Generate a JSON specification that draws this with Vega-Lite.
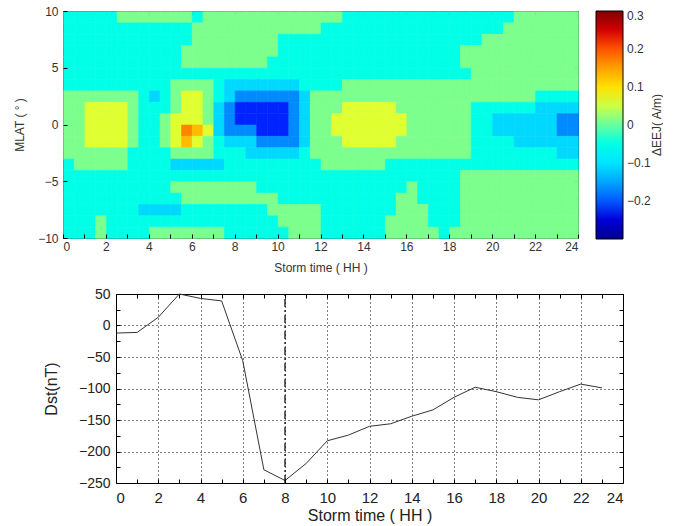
{
"$schema": "https://vega.github.io/schema/vega-lite/v6.json",
"background": "white",
"padding": {"left": 6, "top": 4, "right": 0, "bottom": 0},
"spacing": 12,
"config": {"view": {"stroke": "black", "strokeWidth": 1}, "axis": {"domain": false, "tickColor": "black"}},
"datasets": {
"eej": [
{"t":0.25,"m":9.5,"v":-0.05},{"t":0.75,"m":9.5,"v":-0.05},{"t":1.25,"m":9.5,"v":-0.05},{"t":1.75,"m":9.5,"v":-0.05},{"t":2.25,"m":9.5,"v":-0.05},{"t":2.75,"m":9.5,"v":0.01},{"t":3.25,"m":9.5,"v":0.01},{"t":3.75,"m":9.5,"v":0.01},{"t":4.25,"m":9.5,"v":0.01},{"t":4.75,"m":9.5,"v":0.01},{"t":5.25,"m":9.5,"v":0.01},{"t":5.75,"m":9.5,"v":0.01},{"t":6.25,"m":9.5,"v":-0.05},{"t":6.75,"m":9.5,"v":0.01},{"t":7.25,"m":9.5,"v":0.01},{"t":7.75,"m":9.5,"v":0.01},{"t":8.25,"m":9.5,"v":0.01},{"t":8.75,"m":9.5,"v":0.01},{"t":9.25,"m":9.5,"v":0.01},{"t":9.75,"m":9.5,"v":0.01},{"t":10.25,"m":9.5,"v":0.01},{"t":10.75,"m":9.5,"v":0.01},{"t":11.25,"m":9.5,"v":0.01},{"t":11.75,"m":9.5,"v":0.01},{"t":12.25,"m":9.5,"v":0.01},{"t":12.75,"m":9.5,"v":0.01},{"t":13.25,"m":9.5,"v":-0.05},{"t":13.75,"m":9.5,"v":-0.05},{"t":14.25,"m":9.5,"v":-0.05},{"t":14.75,"m":9.5,"v":-0.05},{"t":15.25,"m":9.5,"v":-0.05},{"t":15.75,"m":9.5,"v":-0.05},{"t":16.25,"m":9.5,"v":-0.05},{"t":16.75,"m":9.5,"v":-0.05},{"t":17.25,"m":9.5,"v":-0.05},{"t":17.75,"m":9.5,"v":-0.05},{"t":18.25,"m":9.5,"v":-0.05},{"t":18.75,"m":9.5,"v":-0.05},{"t":19.25,"m":9.5,"v":-0.05},{"t":19.75,"m":9.5,"v":-0.05},{"t":20.25,"m":9.5,"v":-0.05},{"t":20.75,"m":9.5,"v":-0.05},{"t":21.25,"m":9.5,"v":0.01},{"t":21.75,"m":9.5,"v":0.01},{"t":22.25,"m":9.5,"v":0.01},{"t":22.75,"m":9.5,"v":0.01},{"t":23.25,"m":9.5,"v":0.01},{"t":23.75,"m":9.5,"v":0.01},
{"t":0.25,"m":8.5,"v":-0.05},{"t":0.75,"m":8.5,"v":-0.05},{"t":1.25,"m":8.5,"v":-0.05},{"t":1.75,"m":8.5,"v":-0.05},{"t":2.25,"m":8.5,"v":-0.05},{"t":2.75,"m":8.5,"v":-0.05},{"t":3.25,"m":8.5,"v":-0.05},{"t":3.75,"m":8.5,"v":-0.05},{"t":4.25,"m":8.5,"v":-0.05},{"t":4.75,"m":8.5,"v":-0.05},{"t":5.25,"m":8.5,"v":-0.05},{"t":5.75,"m":8.5,"v":-0.05},{"t":6.25,"m":8.5,"v":0.01},{"t":6.75,"m":8.5,"v":0.01},{"t":7.25,"m":8.5,"v":0.01},{"t":7.75,"m":8.5,"v":0.01},{"t":8.25,"m":8.5,"v":0.01},{"t":8.75,"m":8.5,"v":0.01},{"t":9.25,"m":8.5,"v":0.01},{"t":9.75,"m":8.5,"v":0.01},{"t":10.25,"m":8.5,"v":0.01},{"t":10.75,"m":8.5,"v":0.01},{"t":11.25,"m":8.5,"v":0.01},{"t":11.75,"m":8.5,"v":0.01},{"t":12.25,"m":8.5,"v":-0.05},{"t":12.75,"m":8.5,"v":-0.05},{"t":13.25,"m":8.5,"v":-0.05},{"t":13.75,"m":8.5,"v":-0.05},{"t":14.25,"m":8.5,"v":-0.05},{"t":14.75,"m":8.5,"v":-0.05},{"t":15.25,"m":8.5,"v":-0.05},{"t":15.75,"m":8.5,"v":-0.05},{"t":16.25,"m":8.5,"v":-0.05},{"t":16.75,"m":8.5,"v":-0.05},{"t":17.25,"m":8.5,"v":-0.05},{"t":17.75,"m":8.5,"v":-0.05},{"t":18.25,"m":8.5,"v":-0.05},{"t":18.75,"m":8.5,"v":-0.05},{"t":19.25,"m":8.5,"v":-0.05},{"t":19.75,"m":8.5,"v":-0.05},{"t":20.25,"m":8.5,"v":-0.05},{"t":20.75,"m":8.5,"v":0.01},{"t":21.25,"m":8.5,"v":0.01},{"t":21.75,"m":8.5,"v":0.01},{"t":22.25,"m":8.5,"v":0.01},{"t":22.75,"m":8.5,"v":0.01},{"t":23.25,"m":8.5,"v":0.01},{"t":23.75,"m":8.5,"v":0.01},
{"t":0.25,"m":7.5,"v":-0.05},{"t":0.75,"m":7.5,"v":-0.05},{"t":1.25,"m":7.5,"v":-0.05},{"t":1.75,"m":7.5,"v":-0.05},{"t":2.25,"m":7.5,"v":-0.05},{"t":2.75,"m":7.5,"v":-0.05},{"t":3.25,"m":7.5,"v":-0.05},{"t":3.75,"m":7.5,"v":-0.05},{"t":4.25,"m":7.5,"v":-0.05},{"t":4.75,"m":7.5,"v":-0.05},{"t":5.25,"m":7.5,"v":-0.05},{"t":5.75,"m":7.5,"v":-0.05},{"t":6.25,"m":7.5,"v":0.01},{"t":6.75,"m":7.5,"v":0.01},{"t":7.25,"m":7.5,"v":0.01},{"t":7.75,"m":7.5,"v":0.01},{"t":8.25,"m":7.5,"v":0.01},{"t":8.75,"m":7.5,"v":0.01},{"t":9.25,"m":7.5,"v":0.01},{"t":9.75,"m":7.5,"v":0.01},{"t":10.25,"m":7.5,"v":-0.05},{"t":10.75,"m":7.5,"v":-0.05},{"t":11.25,"m":7.5,"v":-0.05},{"t":11.75,"m":7.5,"v":-0.05},{"t":12.25,"m":7.5,"v":-0.05},{"t":12.75,"m":7.5,"v":-0.05},{"t":13.25,"m":7.5,"v":-0.05},{"t":13.75,"m":7.5,"v":-0.05},{"t":14.25,"m":7.5,"v":-0.05},{"t":14.75,"m":7.5,"v":-0.05},{"t":15.25,"m":7.5,"v":-0.05},{"t":15.75,"m":7.5,"v":-0.05},{"t":16.25,"m":7.5,"v":-0.05},{"t":16.75,"m":7.5,"v":-0.05},{"t":17.25,"m":7.5,"v":-0.05},{"t":17.75,"m":7.5,"v":-0.05},{"t":18.25,"m":7.5,"v":-0.05},{"t":18.75,"m":7.5,"v":-0.05},{"t":19.25,"m":7.5,"v":-0.05},{"t":19.75,"m":7.5,"v":0.01},{"t":20.25,"m":7.5,"v":0.01},{"t":20.75,"m":7.5,"v":0.01},{"t":21.25,"m":7.5,"v":0.01},{"t":21.75,"m":7.5,"v":0.01},{"t":22.25,"m":7.5,"v":0.01},{"t":22.75,"m":7.5,"v":0.01},{"t":23.25,"m":7.5,"v":0.01},{"t":23.75,"m":7.5,"v":0.01},
{"t":0.25,"m":6.5,"v":-0.05},{"t":0.75,"m":6.5,"v":-0.05},{"t":1.25,"m":6.5,"v":-0.05},{"t":1.75,"m":6.5,"v":-0.05},{"t":2.25,"m":6.5,"v":-0.05},{"t":2.75,"m":6.5,"v":-0.05},{"t":3.25,"m":6.5,"v":-0.05},{"t":3.75,"m":6.5,"v":-0.05},{"t":4.25,"m":6.5,"v":-0.05},{"t":4.75,"m":6.5,"v":-0.05},{"t":5.25,"m":6.5,"v":-0.05},{"t":5.75,"m":6.5,"v":0.01},{"t":6.25,"m":6.5,"v":0.01},{"t":6.75,"m":6.5,"v":0.01},{"t":7.25,"m":6.5,"v":0.01},{"t":7.75,"m":6.5,"v":0.01},{"t":8.25,"m":6.5,"v":0.01},{"t":8.75,"m":6.5,"v":0.01},{"t":9.25,"m":6.5,"v":0.01},{"t":9.75,"m":6.5,"v":0.01},{"t":10.25,"m":6.5,"v":-0.05},{"t":10.75,"m":6.5,"v":-0.05},{"t":11.25,"m":6.5,"v":-0.05},{"t":11.75,"m":6.5,"v":-0.05},{"t":12.25,"m":6.5,"v":-0.05},{"t":12.75,"m":6.5,"v":-0.05},{"t":13.25,"m":6.5,"v":-0.05},{"t":13.75,"m":6.5,"v":-0.05},{"t":14.25,"m":6.5,"v":-0.05},{"t":14.75,"m":6.5,"v":-0.05},{"t":15.25,"m":6.5,"v":-0.05},{"t":15.75,"m":6.5,"v":-0.05},{"t":16.25,"m":6.5,"v":-0.05},{"t":16.75,"m":6.5,"v":-0.05},{"t":17.25,"m":6.5,"v":-0.05},{"t":17.75,"m":6.5,"v":-0.05},{"t":18.25,"m":6.5,"v":-0.05},{"t":18.75,"m":6.5,"v":0.01},{"t":19.25,"m":6.5,"v":0.01},{"t":19.75,"m":6.5,"v":0.01},{"t":20.25,"m":6.5,"v":0.01},{"t":20.75,"m":6.5,"v":0.01},{"t":21.25,"m":6.5,"v":0.01},{"t":21.75,"m":6.5,"v":0.01},{"t":22.25,"m":6.5,"v":0.01},{"t":22.75,"m":6.5,"v":0.01},{"t":23.25,"m":6.5,"v":0.01},{"t":23.75,"m":6.5,"v":0.01},
{"t":0.25,"m":5.5,"v":-0.05},{"t":0.75,"m":5.5,"v":-0.05},{"t":1.25,"m":5.5,"v":-0.05},{"t":1.75,"m":5.5,"v":-0.05},{"t":2.25,"m":5.5,"v":-0.05},{"t":2.75,"m":5.5,"v":-0.05},{"t":3.25,"m":5.5,"v":-0.05},{"t":3.75,"m":5.5,"v":-0.05},{"t":4.25,"m":5.5,"v":-0.05},{"t":4.75,"m":5.5,"v":-0.05},{"t":5.25,"m":5.5,"v":-0.05},{"t":5.75,"m":5.5,"v":0.01},{"t":6.25,"m":5.5,"v":0.01},{"t":6.75,"m":5.5,"v":0.01},{"t":7.25,"m":5.5,"v":0.01},{"t":7.75,"m":5.5,"v":0.01},{"t":8.25,"m":5.5,"v":0.01},{"t":8.75,"m":5.5,"v":0.01},{"t":9.25,"m":5.5,"v":0.01},{"t":9.75,"m":5.5,"v":-0.05},{"t":10.25,"m":5.5,"v":-0.05},{"t":10.75,"m":5.5,"v":-0.05},{"t":11.25,"m":5.5,"v":-0.05},{"t":11.75,"m":5.5,"v":-0.05},{"t":12.25,"m":5.5,"v":-0.05},{"t":12.75,"m":5.5,"v":-0.05},{"t":13.25,"m":5.5,"v":-0.05},{"t":13.75,"m":5.5,"v":-0.05},{"t":14.25,"m":5.5,"v":-0.05},{"t":14.75,"m":5.5,"v":-0.05},{"t":15.25,"m":5.5,"v":-0.05},{"t":15.75,"m":5.5,"v":-0.05},{"t":16.25,"m":5.5,"v":-0.05},{"t":16.75,"m":5.5,"v":-0.05},{"t":17.25,"m":5.5,"v":-0.05},{"t":17.75,"m":5.5,"v":-0.05},{"t":18.25,"m":5.5,"v":-0.05},{"t":18.75,"m":5.5,"v":0.01},{"t":19.25,"m":5.5,"v":0.01},{"t":19.75,"m":5.5,"v":0.01},{"t":20.25,"m":5.5,"v":0.01},{"t":20.75,"m":5.5,"v":0.01},{"t":21.25,"m":5.5,"v":0.01},{"t":21.75,"m":5.5,"v":0.01},{"t":22.25,"m":5.5,"v":0.01},{"t":22.75,"m":5.5,"v":0.01},{"t":23.25,"m":5.5,"v":0.01},{"t":23.75,"m":5.5,"v":0.01},
{"t":0.25,"m":4.5,"v":-0.05},{"t":0.75,"m":4.5,"v":-0.05},{"t":1.25,"m":4.5,"v":-0.05},{"t":1.75,"m":4.5,"v":-0.05},{"t":2.25,"m":4.5,"v":-0.05},{"t":2.75,"m":4.5,"v":-0.05},{"t":3.25,"m":4.5,"v":-0.05},{"t":3.75,"m":4.5,"v":-0.05},{"t":4.25,"m":4.5,"v":-0.05},{"t":4.75,"m":4.5,"v":-0.05},{"t":5.25,"m":4.5,"v":-0.05},{"t":5.75,"m":4.5,"v":-0.05},{"t":6.25,"m":4.5,"v":-0.05},{"t":6.75,"m":4.5,"v":-0.05},{"t":7.25,"m":4.5,"v":-0.05},{"t":7.75,"m":4.5,"v":-0.05},{"t":8.25,"m":4.5,"v":-0.05},{"t":8.75,"m":4.5,"v":-0.05},{"t":9.25,"m":4.5,"v":-0.05},{"t":9.75,"m":4.5,"v":-0.05},{"t":10.25,"m":4.5,"v":-0.05},{"t":10.75,"m":4.5,"v":-0.05},{"t":11.25,"m":4.5,"v":-0.05},{"t":11.75,"m":4.5,"v":-0.05},{"t":12.25,"m":4.5,"v":-0.05},{"t":12.75,"m":4.5,"v":-0.05},{"t":13.25,"m":4.5,"v":-0.05},{"t":13.75,"m":4.5,"v":-0.05},{"t":14.25,"m":4.5,"v":-0.05},{"t":14.75,"m":4.5,"v":-0.05},{"t":15.25,"m":4.5,"v":-0.05},{"t":15.75,"m":4.5,"v":-0.05},{"t":16.25,"m":4.5,"v":-0.05},{"t":16.75,"m":4.5,"v":-0.05},{"t":17.25,"m":4.5,"v":-0.05},{"t":17.75,"m":4.5,"v":-0.05},{"t":18.25,"m":4.5,"v":-0.05},{"t":18.75,"m":4.5,"v":-0.05},{"t":19.25,"m":4.5,"v":0.01},{"t":19.75,"m":4.5,"v":0.01},{"t":20.25,"m":4.5,"v":0.01},{"t":20.75,"m":4.5,"v":0.01},{"t":21.25,"m":4.5,"v":0.01},{"t":21.75,"m":4.5,"v":0.01},{"t":22.25,"m":4.5,"v":0.01},{"t":22.75,"m":4.5,"v":0.01},{"t":23.25,"m":4.5,"v":0.01},{"t":23.75,"m":4.5,"v":0.01},
{"t":0.25,"m":3.5,"v":-0.05},{"t":0.75,"m":3.5,"v":-0.05},{"t":1.25,"m":3.5,"v":-0.05},{"t":1.75,"m":3.5,"v":-0.05},{"t":2.25,"m":3.5,"v":-0.05},{"t":2.75,"m":3.5,"v":-0.05},{"t":3.25,"m":3.5,"v":-0.05},{"t":3.75,"m":3.5,"v":-0.05},{"t":4.25,"m":3.5,"v":-0.05},{"t":4.75,"m":3.5,"v":-0.05},{"t":5.25,"m":3.5,"v":0.01},{"t":5.75,"m":3.5,"v":0.01},{"t":6.25,"m":3.5,"v":0.01},{"t":6.75,"m":3.5,"v":0.01},{"t":7.25,"m":3.5,"v":-0.05},{"t":7.75,"m":3.5,"v":-0.11},{"t":8.25,"m":3.5,"v":-0.11},{"t":8.75,"m":3.5,"v":-0.11},{"t":9.25,"m":3.5,"v":-0.11},{"t":9.75,"m":3.5,"v":-0.11},{"t":10.25,"m":3.5,"v":-0.11},{"t":10.75,"m":3.5,"v":-0.11},{"t":11.25,"m":3.5,"v":-0.05},{"t":11.75,"m":3.5,"v":-0.05},{"t":12.25,"m":3.5,"v":-0.05},{"t":12.75,"m":3.5,"v":-0.05},{"t":13.25,"m":3.5,"v":0.01},{"t":13.75,"m":3.5,"v":0.01},{"t":14.25,"m":3.5,"v":0.01},{"t":14.75,"m":3.5,"v":0.01},{"t":15.25,"m":3.5,"v":0.01},{"t":15.75,"m":3.5,"v":0.01},{"t":16.25,"m":3.5,"v":0.01},{"t":16.75,"m":3.5,"v":0.01},{"t":17.25,"m":3.5,"v":0.01},{"t":17.75,"m":3.5,"v":0.01},{"t":18.25,"m":3.5,"v":0.01},{"t":18.75,"m":3.5,"v":0.01},{"t":19.25,"m":3.5,"v":0.01},{"t":19.75,"m":3.5,"v":0.01},{"t":20.25,"m":3.5,"v":0.01},{"t":20.75,"m":3.5,"v":0.01},{"t":21.25,"m":3.5,"v":0.01},{"t":21.75,"m":3.5,"v":0.01},{"t":22.25,"m":3.5,"v":0.01},{"t":22.75,"m":3.5,"v":0.01},{"t":23.25,"m":3.5,"v":0.01},{"t":23.75,"m":3.5,"v":0.01},
{"t":0.25,"m":2.5,"v":0.01},{"t":0.75,"m":2.5,"v":0.01},{"t":1.25,"m":2.5,"v":0.01},{"t":1.75,"m":2.5,"v":0.01},{"t":2.25,"m":2.5,"v":0.01},{"t":2.75,"m":2.5,"v":0.01},{"t":3.25,"m":2.5,"v":0.01},{"t":3.75,"m":2.5,"v":-0.05},{"t":4.25,"m":2.5,"v":-0.11},{"t":4.75,"m":2.5,"v":-0.05},{"t":5.25,"m":2.5,"v":0.01},{"t":5.75,"m":2.5,"v":0.06},{"t":6.25,"m":2.5,"v":0.06},{"t":6.75,"m":2.5,"v":0.01},{"t":7.25,"m":2.5,"v":-0.05},{"t":7.75,"m":2.5,"v":-0.11},{"t":8.25,"m":2.5,"v":-0.17},{"t":8.75,"m":2.5,"v":-0.17},{"t":9.25,"m":2.5,"v":-0.17},{"t":9.75,"m":2.5,"v":-0.17},{"t":10.25,"m":2.5,"v":-0.17},{"t":10.75,"m":2.5,"v":-0.17},{"t":11.25,"m":2.5,"v":-0.11},{"t":11.75,"m":2.5,"v":0.01},{"t":12.25,"m":2.5,"v":0.01},{"t":12.75,"m":2.5,"v":0.01},{"t":13.25,"m":2.5,"v":0.01},{"t":13.75,"m":2.5,"v":0.01},{"t":14.25,"m":2.5,"v":0.01},{"t":14.75,"m":2.5,"v":0.01},{"t":15.25,"m":2.5,"v":0.01},{"t":15.75,"m":2.5,"v":0.01},{"t":16.25,"m":2.5,"v":0.01},{"t":16.75,"m":2.5,"v":0.01},{"t":17.25,"m":2.5,"v":0.01},{"t":17.75,"m":2.5,"v":0.01},{"t":18.25,"m":2.5,"v":0.01},{"t":18.75,"m":2.5,"v":0.01},{"t":19.25,"m":2.5,"v":0.01},{"t":19.75,"m":2.5,"v":0.01},{"t":20.25,"m":2.5,"v":0.01},{"t":20.75,"m":2.5,"v":0.01},{"t":21.25,"m":2.5,"v":0.01},{"t":21.75,"m":2.5,"v":0.01},{"t":22.25,"m":2.5,"v":-0.05},{"t":22.75,"m":2.5,"v":-0.05},{"t":23.25,"m":2.5,"v":-0.05},{"t":23.75,"m":2.5,"v":-0.05},
{"t":0.25,"m":1.5,"v":0.01},{"t":0.75,"m":1.5,"v":0.01},{"t":1.25,"m":1.5,"v":0.06},{"t":1.75,"m":1.5,"v":0.06},{"t":2.25,"m":1.5,"v":0.06},{"t":2.75,"m":1.5,"v":0.06},{"t":3.25,"m":1.5,"v":0.01},{"t":3.75,"m":1.5,"v":-0.05},{"t":4.25,"m":1.5,"v":-0.05},{"t":4.75,"m":1.5,"v":-0.05},{"t":5.25,"m":1.5,"v":0.01},{"t":5.75,"m":1.5,"v":0.06},{"t":6.25,"m":1.5,"v":0.06},{"t":6.75,"m":1.5,"v":0.01},{"t":7.25,"m":1.5,"v":-0.11},{"t":7.75,"m":1.5,"v":-0.17},{"t":8.25,"m":1.5,"v":-0.22},{"t":8.75,"m":1.5,"v":-0.22},{"t":9.25,"m":1.5,"v":-0.22},{"t":9.75,"m":1.5,"v":-0.22},{"t":10.25,"m":1.5,"v":-0.22},{"t":10.75,"m":1.5,"v":-0.17},{"t":11.25,"m":1.5,"v":-0.11},{"t":11.75,"m":1.5,"v":0.01},{"t":12.25,"m":1.5,"v":0.01},{"t":12.75,"m":1.5,"v":0.01},{"t":13.25,"m":1.5,"v":0.06},{"t":13.75,"m":1.5,"v":0.06},{"t":14.25,"m":1.5,"v":0.06},{"t":14.75,"m":1.5,"v":0.06},{"t":15.25,"m":1.5,"v":0.06},{"t":15.75,"m":1.5,"v":0.01},{"t":16.25,"m":1.5,"v":0.01},{"t":16.75,"m":1.5,"v":0.01},{"t":17.25,"m":1.5,"v":0.01},{"t":17.75,"m":1.5,"v":0.01},{"t":18.25,"m":1.5,"v":0.01},{"t":18.75,"m":1.5,"v":0.01},{"t":19.25,"m":1.5,"v":-0.05},{"t":19.75,"m":1.5,"v":-0.05},{"t":20.25,"m":1.5,"v":-0.05},{"t":20.75,"m":1.5,"v":-0.05},{"t":21.25,"m":1.5,"v":-0.05},{"t":21.75,"m":1.5,"v":-0.05},{"t":22.25,"m":1.5,"v":-0.11},{"t":22.75,"m":1.5,"v":-0.11},{"t":23.25,"m":1.5,"v":-0.11},{"t":23.75,"m":1.5,"v":-0.11},
{"t":0.25,"m":0.5,"v":0.01},{"t":0.75,"m":0.5,"v":0.01},{"t":1.25,"m":0.5,"v":0.06},{"t":1.75,"m":0.5,"v":0.06},{"t":2.25,"m":0.5,"v":0.06},{"t":2.75,"m":0.5,"v":0.06},{"t":3.25,"m":0.5,"v":0.01},{"t":3.75,"m":0.5,"v":-0.05},{"t":4.25,"m":0.5,"v":-0.05},{"t":4.75,"m":0.5,"v":0.01},{"t":5.25,"m":0.5,"v":0.06},{"t":5.75,"m":0.5,"v":0.06},{"t":6.25,"m":0.5,"v":0.06},{"t":6.75,"m":0.5,"v":0.01},{"t":7.25,"m":0.5,"v":-0.11},{"t":7.75,"m":0.5,"v":-0.17},{"t":8.25,"m":0.5,"v":-0.22},{"t":8.75,"m":0.5,"v":-0.22},{"t":9.25,"m":0.5,"v":-0.22},{"t":9.75,"m":0.5,"v":-0.22},{"t":10.25,"m":0.5,"v":-0.22},{"t":10.75,"m":0.5,"v":-0.17},{"t":11.25,"m":0.5,"v":-0.11},{"t":11.75,"m":0.5,"v":0.01},{"t":12.25,"m":0.5,"v":0.01},{"t":12.75,"m":0.5,"v":0.06},{"t":13.25,"m":0.5,"v":0.06},{"t":13.75,"m":0.5,"v":0.06},{"t":14.25,"m":0.5,"v":0.06},{"t":14.75,"m":0.5,"v":0.06},{"t":15.25,"m":0.5,"v":0.06},{"t":15.75,"m":0.5,"v":0.06},{"t":16.25,"m":0.5,"v":0.01},{"t":16.75,"m":0.5,"v":0.01},{"t":17.25,"m":0.5,"v":0.01},{"t":17.75,"m":0.5,"v":0.01},{"t":18.25,"m":0.5,"v":0.01},{"t":18.75,"m":0.5,"v":0.01},{"t":19.25,"m":0.5,"v":-0.05},{"t":19.75,"m":0.5,"v":-0.05},{"t":20.25,"m":0.5,"v":-0.11},{"t":20.75,"m":0.5,"v":-0.11},{"t":21.25,"m":0.5,"v":-0.11},{"t":21.75,"m":0.5,"v":-0.11},{"t":22.25,"m":0.5,"v":-0.11},{"t":22.75,"m":0.5,"v":-0.11},{"t":23.25,"m":0.5,"v":-0.17},{"t":23.75,"m":0.5,"v":-0.17},
{"t":0.25,"m":-0.5,"v":0.01},{"t":0.75,"m":-0.5,"v":0.01},{"t":1.25,"m":-0.5,"v":0.06},{"t":1.75,"m":-0.5,"v":0.06},{"t":2.25,"m":-0.5,"v":0.06},{"t":2.75,"m":-0.5,"v":0.06},{"t":3.25,"m":-0.5,"v":0.01},{"t":3.75,"m":-0.5,"v":-0.05},{"t":4.25,"m":-0.5,"v":-0.05},{"t":4.75,"m":-0.5,"v":0.01},{"t":5.25,"m":-0.5,"v":0.06},{"t":5.75,"m":-0.5,"v":0.17},{"t":6.25,"m":-0.5,"v":0.13},{"t":6.75,"m":-0.5,"v":0.06},{"t":7.25,"m":-0.5,"v":-0.11},{"t":7.75,"m":-0.5,"v":-0.17},{"t":8.25,"m":-0.5,"v":-0.17},{"t":8.75,"m":-0.5,"v":-0.17},{"t":9.25,"m":-0.5,"v":-0.22},{"t":9.75,"m":-0.5,"v":-0.22},{"t":10.25,"m":-0.5,"v":-0.22},{"t":10.75,"m":-0.5,"v":-0.17},{"t":11.25,"m":-0.5,"v":-0.11},{"t":11.75,"m":-0.5,"v":0.01},{"t":12.25,"m":-0.5,"v":0.01},{"t":12.75,"m":-0.5,"v":0.06},{"t":13.25,"m":-0.5,"v":0.06},{"t":13.75,"m":-0.5,"v":0.06},{"t":14.25,"m":-0.5,"v":0.06},{"t":14.75,"m":-0.5,"v":0.06},{"t":15.25,"m":-0.5,"v":0.06},{"t":15.75,"m":-0.5,"v":0.06},{"t":16.25,"m":-0.5,"v":0.01},{"t":16.75,"m":-0.5,"v":0.01},{"t":17.25,"m":-0.5,"v":0.01},{"t":17.75,"m":-0.5,"v":0.01},{"t":18.25,"m":-0.5,"v":0.01},{"t":18.75,"m":-0.5,"v":0.01},{"t":19.25,"m":-0.5,"v":-0.05},{"t":19.75,"m":-0.5,"v":-0.05},{"t":20.25,"m":-0.5,"v":-0.11},{"t":20.75,"m":-0.5,"v":-0.11},{"t":21.25,"m":-0.5,"v":-0.11},{"t":21.75,"m":-0.5,"v":-0.11},{"t":22.25,"m":-0.5,"v":-0.11},{"t":22.75,"m":-0.5,"v":-0.11},{"t":23.25,"m":-0.5,"v":-0.17},{"t":23.75,"m":-0.5,"v":-0.17},
{"t":0.25,"m":-1.5,"v":0.01},{"t":0.75,"m":-1.5,"v":0.01},{"t":1.25,"m":-1.5,"v":0.06},{"t":1.75,"m":-1.5,"v":0.06},{"t":2.25,"m":-1.5,"v":0.06},{"t":2.75,"m":-1.5,"v":0.06},{"t":3.25,"m":-1.5,"v":0.01},{"t":3.75,"m":-1.5,"v":-0.05},{"t":4.25,"m":-1.5,"v":-0.05},{"t":4.75,"m":-1.5,"v":0.01},{"t":5.25,"m":-1.5,"v":0.06},{"t":5.75,"m":-1.5,"v":0.13},{"t":6.25,"m":-1.5,"v":0.06},{"t":6.75,"m":-1.5,"v":0.01},{"t":7.25,"m":-1.5,"v":-0.05},{"t":7.75,"m":-1.5,"v":-0.11},{"t":8.25,"m":-1.5,"v":-0.11},{"t":8.75,"m":-1.5,"v":-0.11},{"t":9.25,"m":-1.5,"v":-0.17},{"t":9.75,"m":-1.5,"v":-0.17},{"t":10.25,"m":-1.5,"v":-0.17},{"t":10.75,"m":-1.5,"v":-0.17},{"t":11.25,"m":-1.5,"v":-0.11},{"t":11.75,"m":-1.5,"v":0.01},{"t":12.25,"m":-1.5,"v":0.01},{"t":12.75,"m":-1.5,"v":0.01},{"t":13.25,"m":-1.5,"v":0.06},{"t":13.75,"m":-1.5,"v":0.06},{"t":14.25,"m":-1.5,"v":0.06},{"t":14.75,"m":-1.5,"v":0.06},{"t":15.25,"m":-1.5,"v":0.06},{"t":15.75,"m":-1.5,"v":0.01},{"t":16.25,"m":-1.5,"v":0.01},{"t":16.75,"m":-1.5,"v":0.01},{"t":17.25,"m":-1.5,"v":0.01},{"t":17.75,"m":-1.5,"v":0.01},{"t":18.25,"m":-1.5,"v":0.01},{"t":18.75,"m":-1.5,"v":0.01},{"t":19.25,"m":-1.5,"v":-0.05},{"t":19.75,"m":-1.5,"v":-0.05},{"t":20.25,"m":-1.5,"v":-0.05},{"t":20.75,"m":-1.5,"v":-0.05},{"t":21.25,"m":-1.5,"v":-0.11},{"t":21.75,"m":-1.5,"v":-0.11},{"t":22.25,"m":-1.5,"v":-0.11},{"t":22.75,"m":-1.5,"v":-0.11},{"t":23.25,"m":-1.5,"v":-0.11},{"t":23.75,"m":-1.5,"v":-0.11},
{"t":0.25,"m":-2.5,"v":0.01},{"t":0.75,"m":-2.5,"v":0.01},{"t":1.25,"m":-2.5,"v":0.01},{"t":1.75,"m":-2.5,"v":0.01},{"t":2.25,"m":-2.5,"v":0.01},{"t":2.75,"m":-2.5,"v":0.01},{"t":3.25,"m":-2.5,"v":-0.05},{"t":3.75,"m":-2.5,"v":-0.05},{"t":4.25,"m":-2.5,"v":-0.05},{"t":4.75,"m":-2.5,"v":-0.05},{"t":5.25,"m":-2.5,"v":0.01},{"t":5.75,"m":-2.5,"v":0.01},{"t":6.25,"m":-2.5,"v":0.01},{"t":6.75,"m":-2.5,"v":0.01},{"t":7.25,"m":-2.5,"v":-0.05},{"t":7.75,"m":-2.5,"v":-0.05},{"t":8.25,"m":-2.5,"v":-0.05},{"t":8.75,"m":-2.5,"v":-0.11},{"t":9.25,"m":-2.5,"v":-0.11},{"t":9.75,"m":-2.5,"v":-0.11},{"t":10.25,"m":-2.5,"v":-0.11},{"t":10.75,"m":-2.5,"v":-0.11},{"t":11.25,"m":-2.5,"v":-0.05},{"t":11.75,"m":-2.5,"v":0.01},{"t":12.25,"m":-2.5,"v":0.01},{"t":12.75,"m":-2.5,"v":0.01},{"t":13.25,"m":-2.5,"v":0.01},{"t":13.75,"m":-2.5,"v":0.01},{"t":14.25,"m":-2.5,"v":0.01},{"t":14.75,"m":-2.5,"v":0.01},{"t":15.25,"m":-2.5,"v":0.01},{"t":15.75,"m":-2.5,"v":0.01},{"t":16.25,"m":-2.5,"v":0.01},{"t":16.75,"m":-2.5,"v":0.01},{"t":17.25,"m":-2.5,"v":0.01},{"t":17.75,"m":-2.5,"v":0.01},{"t":18.25,"m":-2.5,"v":0.01},{"t":18.75,"m":-2.5,"v":0.01},{"t":19.25,"m":-2.5,"v":-0.05},{"t":19.75,"m":-2.5,"v":-0.05},{"t":20.25,"m":-2.5,"v":-0.05},{"t":20.75,"m":-2.5,"v":-0.05},{"t":21.25,"m":-2.5,"v":-0.05},{"t":21.75,"m":-2.5,"v":-0.05},{"t":22.25,"m":-2.5,"v":-0.05},{"t":22.75,"m":-2.5,"v":-0.05},{"t":23.25,"m":-2.5,"v":-0.11},{"t":23.75,"m":-2.5,"v":-0.11},
{"t":0.25,"m":-3.5,"v":-0.05},{"t":0.75,"m":-3.5,"v":0.01},{"t":1.25,"m":-3.5,"v":0.01},{"t":1.75,"m":-3.5,"v":0.01},{"t":2.25,"m":-3.5,"v":0.01},{"t":2.75,"m":-3.5,"v":0.01},{"t":3.25,"m":-3.5,"v":-0.05},{"t":3.75,"m":-3.5,"v":-0.05},{"t":4.25,"m":-3.5,"v":-0.05},{"t":4.75,"m":-3.5,"v":-0.05},{"t":5.25,"m":-3.5,"v":-0.11},{"t":5.75,"m":-3.5,"v":-0.11},{"t":6.25,"m":-3.5,"v":-0.11},{"t":6.75,"m":-3.5,"v":-0.11},{"t":7.25,"m":-3.5,"v":-0.11},{"t":7.75,"m":-3.5,"v":-0.05},{"t":8.25,"m":-3.5,"v":-0.05},{"t":8.75,"m":-3.5,"v":-0.05},{"t":9.25,"m":-3.5,"v":-0.05},{"t":9.75,"m":-3.5,"v":-0.05},{"t":10.25,"m":-3.5,"v":-0.05},{"t":10.75,"m":-3.5,"v":-0.05},{"t":11.25,"m":-3.5,"v":-0.05},{"t":11.75,"m":-3.5,"v":-0.05},{"t":12.25,"m":-3.5,"v":0.01},{"t":12.75,"m":-3.5,"v":0.01},{"t":13.25,"m":-3.5,"v":0.01},{"t":13.75,"m":-3.5,"v":0.01},{"t":14.25,"m":-3.5,"v":0.01},{"t":14.75,"m":-3.5,"v":0.01},{"t":15.25,"m":-3.5,"v":-0.05},{"t":15.75,"m":-3.5,"v":-0.05},{"t":16.25,"m":-3.5,"v":-0.05},{"t":16.75,"m":-3.5,"v":-0.05},{"t":17.25,"m":-3.5,"v":-0.05},{"t":17.75,"m":-3.5,"v":-0.05},{"t":18.25,"m":-3.5,"v":-0.05},{"t":18.75,"m":-3.5,"v":-0.05},{"t":19.25,"m":-3.5,"v":-0.05},{"t":19.75,"m":-3.5,"v":-0.05},{"t":20.25,"m":-3.5,"v":-0.05},{"t":20.75,"m":-3.5,"v":-0.05},{"t":21.25,"m":-3.5,"v":-0.05},{"t":21.75,"m":-3.5,"v":-0.05},{"t":22.25,"m":-3.5,"v":-0.05},{"t":22.75,"m":-3.5,"v":-0.05},{"t":23.25,"m":-3.5,"v":-0.05},{"t":23.75,"m":-3.5,"v":-0.05},
{"t":0.25,"m":-4.5,"v":-0.05},{"t":0.75,"m":-4.5,"v":-0.05},{"t":1.25,"m":-4.5,"v":-0.05},{"t":1.75,"m":-4.5,"v":-0.05},{"t":2.25,"m":-4.5,"v":-0.05},{"t":2.75,"m":-4.5,"v":-0.05},{"t":3.25,"m":-4.5,"v":-0.05},{"t":3.75,"m":-4.5,"v":-0.05},{"t":4.25,"m":-4.5,"v":-0.05},{"t":4.75,"m":-4.5,"v":-0.05},{"t":5.25,"m":-4.5,"v":-0.05},{"t":5.75,"m":-4.5,"v":-0.05},{"t":6.25,"m":-4.5,"v":-0.05},{"t":6.75,"m":-4.5,"v":-0.05},{"t":7.25,"m":-4.5,"v":-0.05},{"t":7.75,"m":-4.5,"v":-0.05},{"t":8.25,"m":-4.5,"v":-0.05},{"t":8.75,"m":-4.5,"v":-0.05},{"t":9.25,"m":-4.5,"v":-0.05},{"t":9.75,"m":-4.5,"v":-0.05},{"t":10.25,"m":-4.5,"v":-0.05},{"t":10.75,"m":-4.5,"v":-0.05},{"t":11.25,"m":-4.5,"v":-0.05},{"t":11.75,"m":-4.5,"v":-0.05},{"t":12.25,"m":-4.5,"v":-0.05},{"t":12.75,"m":-4.5,"v":-0.05},{"t":13.25,"m":-4.5,"v":-0.05},{"t":13.75,"m":-4.5,"v":-0.05},{"t":14.25,"m":-4.5,"v":-0.05},{"t":14.75,"m":-4.5,"v":-0.05},{"t":15.25,"m":-4.5,"v":-0.05},{"t":15.75,"m":-4.5,"v":-0.05},{"t":16.25,"m":-4.5,"v":-0.05},{"t":16.75,"m":-4.5,"v":-0.05},{"t":17.25,"m":-4.5,"v":-0.05},{"t":17.75,"m":-4.5,"v":-0.05},{"t":18.25,"m":-4.5,"v":-0.05},{"t":18.75,"m":-4.5,"v":0.01},{"t":19.25,"m":-4.5,"v":0.01},{"t":19.75,"m":-4.5,"v":0.01},{"t":20.25,"m":-4.5,"v":0.01},{"t":20.75,"m":-4.5,"v":0.01},{"t":21.25,"m":-4.5,"v":0.01},{"t":21.75,"m":-4.5,"v":0.01},{"t":22.25,"m":-4.5,"v":0.01},{"t":22.75,"m":-4.5,"v":0.01},{"t":23.25,"m":-4.5,"v":0.01},{"t":23.75,"m":-4.5,"v":0.01},
{"t":0.25,"m":-5.5,"v":-0.05},{"t":0.75,"m":-5.5,"v":-0.05},{"t":1.25,"m":-5.5,"v":-0.05},{"t":1.75,"m":-5.5,"v":-0.05},{"t":2.25,"m":-5.5,"v":-0.05},{"t":2.75,"m":-5.5,"v":-0.05},{"t":3.25,"m":-5.5,"v":-0.05},{"t":3.75,"m":-5.5,"v":-0.05},{"t":4.25,"m":-5.5,"v":-0.05},{"t":4.75,"m":-5.5,"v":-0.05},{"t":5.25,"m":-5.5,"v":0.01},{"t":5.75,"m":-5.5,"v":0.01},{"t":6.25,"m":-5.5,"v":0.01},{"t":6.75,"m":-5.5,"v":0.01},{"t":7.25,"m":-5.5,"v":0.01},{"t":7.75,"m":-5.5,"v":0.01},{"t":8.25,"m":-5.5,"v":0.01},{"t":8.75,"m":-5.5,"v":0.01},{"t":9.25,"m":-5.5,"v":-0.05},{"t":9.75,"m":-5.5,"v":-0.05},{"t":10.25,"m":-5.5,"v":-0.05},{"t":10.75,"m":-5.5,"v":-0.05},{"t":11.25,"m":-5.5,"v":-0.05},{"t":11.75,"m":-5.5,"v":-0.05},{"t":12.25,"m":-5.5,"v":-0.05},{"t":12.75,"m":-5.5,"v":-0.05},{"t":13.25,"m":-5.5,"v":-0.05},{"t":13.75,"m":-5.5,"v":-0.05},{"t":14.25,"m":-5.5,"v":-0.05},{"t":14.75,"m":-5.5,"v":-0.05},{"t":15.25,"m":-5.5,"v":-0.05},{"t":15.75,"m":-5.5,"v":-0.05},{"t":16.25,"m":-5.5,"v":0.01},{"t":16.75,"m":-5.5,"v":-0.05},{"t":17.25,"m":-5.5,"v":-0.05},{"t":17.75,"m":-5.5,"v":-0.05},{"t":18.25,"m":-5.5,"v":-0.05},{"t":18.75,"m":-5.5,"v":0.01},{"t":19.25,"m":-5.5,"v":0.01},{"t":19.75,"m":-5.5,"v":0.01},{"t":20.25,"m":-5.5,"v":0.01},{"t":20.75,"m":-5.5,"v":0.01},{"t":21.25,"m":-5.5,"v":0.01},{"t":21.75,"m":-5.5,"v":0.01},{"t":22.25,"m":-5.5,"v":0.01},{"t":22.75,"m":-5.5,"v":0.01},{"t":23.25,"m":-5.5,"v":0.01},{"t":23.75,"m":-5.5,"v":0.01},
{"t":0.25,"m":-6.5,"v":-0.05},{"t":0.75,"m":-6.5,"v":-0.05},{"t":1.25,"m":-6.5,"v":-0.05},{"t":1.75,"m":-6.5,"v":-0.05},{"t":2.25,"m":-6.5,"v":-0.05},{"t":2.75,"m":-6.5,"v":-0.05},{"t":3.25,"m":-6.5,"v":-0.05},{"t":3.75,"m":-6.5,"v":-0.05},{"t":4.25,"m":-6.5,"v":-0.05},{"t":4.75,"m":-6.5,"v":-0.05},{"t":5.25,"m":-6.5,"v":-0.05},{"t":5.75,"m":-6.5,"v":0.01},{"t":6.25,"m":-6.5,"v":0.01},{"t":6.75,"m":-6.5,"v":0.01},{"t":7.25,"m":-6.5,"v":0.01},{"t":7.75,"m":-6.5,"v":0.01},{"t":8.25,"m":-6.5,"v":0.01},{"t":8.75,"m":-6.5,"v":0.01},{"t":9.25,"m":-6.5,"v":0.01},{"t":9.75,"m":-6.5,"v":0.01},{"t":10.25,"m":-6.5,"v":-0.05},{"t":10.75,"m":-6.5,"v":-0.05},{"t":11.25,"m":-6.5,"v":-0.05},{"t":11.75,"m":-6.5,"v":-0.05},{"t":12.25,"m":-6.5,"v":-0.05},{"t":12.75,"m":-6.5,"v":-0.05},{"t":13.25,"m":-6.5,"v":-0.05},{"t":13.75,"m":-6.5,"v":-0.05},{"t":14.25,"m":-6.5,"v":-0.05},{"t":14.75,"m":-6.5,"v":-0.05},{"t":15.25,"m":-6.5,"v":-0.05},{"t":15.75,"m":-6.5,"v":0.01},{"t":16.25,"m":-6.5,"v":0.01},{"t":16.75,"m":-6.5,"v":-0.05},{"t":17.25,"m":-6.5,"v":-0.05},{"t":17.75,"m":-6.5,"v":-0.05},{"t":18.25,"m":-6.5,"v":-0.05},{"t":18.75,"m":-6.5,"v":0.01},{"t":19.25,"m":-6.5,"v":0.01},{"t":19.75,"m":-6.5,"v":0.01},{"t":20.25,"m":-6.5,"v":0.01},{"t":20.75,"m":-6.5,"v":0.01},{"t":21.25,"m":-6.5,"v":0.01},{"t":21.75,"m":-6.5,"v":0.01},{"t":22.25,"m":-6.5,"v":0.01},{"t":22.75,"m":-6.5,"v":0.01},{"t":23.25,"m":-6.5,"v":0.01},{"t":23.75,"m":-6.5,"v":0.01},
{"t":0.25,"m":-7.5,"v":-0.05},{"t":0.75,"m":-7.5,"v":-0.05},{"t":1.25,"m":-7.5,"v":-0.05},{"t":1.75,"m":-7.5,"v":-0.05},{"t":2.25,"m":-7.5,"v":-0.05},{"t":2.75,"m":-7.5,"v":-0.05},{"t":3.25,"m":-7.5,"v":-0.05},{"t":3.75,"m":-7.5,"v":-0.11},{"t":4.25,"m":-7.5,"v":-0.11},{"t":4.75,"m":-7.5,"v":-0.11},{"t":5.25,"m":-7.5,"v":-0.11},{"t":5.75,"m":-7.5,"v":-0.05},{"t":6.25,"m":-7.5,"v":-0.05},{"t":6.75,"m":-7.5,"v":-0.05},{"t":7.25,"m":-7.5,"v":-0.05},{"t":7.75,"m":-7.5,"v":-0.05},{"t":8.25,"m":-7.5,"v":-0.05},{"t":8.75,"m":-7.5,"v":-0.05},{"t":9.25,"m":-7.5,"v":-0.05},{"t":9.75,"m":-7.5,"v":0.01},{"t":10.25,"m":-7.5,"v":0.01},{"t":10.75,"m":-7.5,"v":0.01},{"t":11.25,"m":-7.5,"v":0.01},{"t":11.75,"m":-7.5,"v":0.01},{"t":12.25,"m":-7.5,"v":-0.05},{"t":12.75,"m":-7.5,"v":-0.05},{"t":13.25,"m":-7.5,"v":-0.05},{"t":13.75,"m":-7.5,"v":-0.05},{"t":14.25,"m":-7.5,"v":-0.05},{"t":14.75,"m":-7.5,"v":-0.05},{"t":15.25,"m":-7.5,"v":-0.05},{"t":15.75,"m":-7.5,"v":0.01},{"t":16.25,"m":-7.5,"v":0.01},{"t":16.75,"m":-7.5,"v":0.01},{"t":17.25,"m":-7.5,"v":-0.05},{"t":17.75,"m":-7.5,"v":-0.05},{"t":18.25,"m":-7.5,"v":-0.05},{"t":18.75,"m":-7.5,"v":0.01},{"t":19.25,"m":-7.5,"v":0.01},{"t":19.75,"m":-7.5,"v":0.01},{"t":20.25,"m":-7.5,"v":0.01},{"t":20.75,"m":-7.5,"v":0.01},{"t":21.25,"m":-7.5,"v":0.01},{"t":21.75,"m":-7.5,"v":0.01},{"t":22.25,"m":-7.5,"v":0.01},{"t":22.75,"m":-7.5,"v":0.01},{"t":23.25,"m":-7.5,"v":0.01},{"t":23.75,"m":-7.5,"v":0.01},
{"t":0.25,"m":-8.5,"v":-0.05},{"t":0.75,"m":-8.5,"v":-0.05},{"t":1.25,"m":-8.5,"v":-0.05},{"t":1.75,"m":-8.5,"v":0.01},{"t":2.25,"m":-8.5,"v":-0.05},{"t":2.75,"m":-8.5,"v":-0.05},{"t":3.25,"m":-8.5,"v":-0.05},{"t":3.75,"m":-8.5,"v":-0.05},{"t":4.25,"m":-8.5,"v":-0.05},{"t":4.75,"m":-8.5,"v":-0.05},{"t":5.25,"m":-8.5,"v":-0.05},{"t":5.75,"m":-8.5,"v":-0.05},{"t":6.25,"m":-8.5,"v":-0.05},{"t":6.75,"m":-8.5,"v":-0.05},{"t":7.25,"m":-8.5,"v":-0.05},{"t":7.75,"m":-8.5,"v":-0.05},{"t":8.25,"m":-8.5,"v":-0.05},{"t":8.75,"m":-8.5,"v":-0.05},{"t":9.25,"m":-8.5,"v":-0.05},{"t":9.75,"m":-8.5,"v":-0.05},{"t":10.25,"m":-8.5,"v":0.01},{"t":10.75,"m":-8.5,"v":0.01},{"t":11.25,"m":-8.5,"v":0.01},{"t":11.75,"m":-8.5,"v":0.01},{"t":12.25,"m":-8.5,"v":-0.05},{"t":12.75,"m":-8.5,"v":-0.05},{"t":13.25,"m":-8.5,"v":-0.05},{"t":13.75,"m":-8.5,"v":-0.05},{"t":14.25,"m":-8.5,"v":-0.05},{"t":14.75,"m":-8.5,"v":-0.05},{"t":15.25,"m":-8.5,"v":0.01},{"t":15.75,"m":-8.5,"v":0.01},{"t":16.25,"m":-8.5,"v":0.01},{"t":16.75,"m":-8.5,"v":0.01},{"t":17.25,"m":-8.5,"v":-0.05},{"t":17.75,"m":-8.5,"v":-0.05},{"t":18.25,"m":-8.5,"v":-0.05},{"t":18.75,"m":-8.5,"v":0.01},{"t":19.25,"m":-8.5,"v":0.01},{"t":19.75,"m":-8.5,"v":0.01},{"t":20.25,"m":-8.5,"v":0.01},{"t":20.75,"m":-8.5,"v":0.01},{"t":21.25,"m":-8.5,"v":0.01},{"t":21.75,"m":-8.5,"v":0.01},{"t":22.25,"m":-8.5,"v":0.01},{"t":22.75,"m":-8.5,"v":0.01},{"t":23.25,"m":-8.5,"v":0.01},{"t":23.75,"m":-8.5,"v":0.01},
{"t":0.25,"m":-9.5,"v":-0.05},{"t":0.75,"m":-9.5,"v":-0.05},{"t":1.25,"m":-9.5,"v":-0.05},{"t":1.75,"m":-9.5,"v":0.01},{"t":2.25,"m":-9.5,"v":-0.05},{"t":2.75,"m":-9.5,"v":-0.05},{"t":3.25,"m":-9.5,"v":-0.05},{"t":3.75,"m":-9.5,"v":-0.05},{"t":4.25,"m":-9.5,"v":0.01},{"t":4.75,"m":-9.5,"v":0.01},{"t":5.25,"m":-9.5,"v":0.01},{"t":5.75,"m":-9.5,"v":0.01},{"t":6.25,"m":-9.5,"v":0.01},{"t":6.75,"m":-9.5,"v":0.01},{"t":7.25,"m":-9.5,"v":0.01},{"t":7.75,"m":-9.5,"v":-0.05},{"t":8.25,"m":-9.5,"v":-0.05},{"t":8.75,"m":-9.5,"v":-0.05},{"t":9.25,"m":-9.5,"v":-0.05},{"t":9.75,"m":-9.5,"v":-0.05},{"t":10.25,"m":-9.5,"v":-0.05},{"t":10.75,"m":-9.5,"v":0.01},{"t":11.25,"m":-9.5,"v":0.01},{"t":11.75,"m":-9.5,"v":0.01},{"t":12.25,"m":-9.5,"v":-0.05},{"t":12.75,"m":-9.5,"v":-0.05},{"t":13.25,"m":-9.5,"v":-0.05},{"t":13.75,"m":-9.5,"v":-0.05},{"t":14.25,"m":-9.5,"v":-0.05},{"t":14.75,"m":-9.5,"v":-0.05},{"t":15.25,"m":-9.5,"v":0.01},{"t":15.75,"m":-9.5,"v":0.01},{"t":16.25,"m":-9.5,"v":0.01},{"t":16.75,"m":-9.5,"v":0.01},{"t":17.25,"m":-9.5,"v":0.01},{"t":17.75,"m":-9.5,"v":-0.05},{"t":18.25,"m":-9.5,"v":0.01},{"t":18.75,"m":-9.5,"v":0.01},{"t":19.25,"m":-9.5,"v":0.01},{"t":19.75,"m":-9.5,"v":0.01},{"t":20.25,"m":-9.5,"v":0.01},{"t":20.75,"m":-9.5,"v":0.01},{"t":21.25,"m":-9.5,"v":0.01},{"t":21.75,"m":-9.5,"v":0.01},{"t":22.25,"m":-9.5,"v":0.01},{"t":22.75,"m":-9.5,"v":0.01},{"t":23.25,"m":-9.5,"v":0.01},{"t":23.75,"m":-9.5,"v":0.01}
],
"dst": [
{"t":0,"dst":-12},{"t":1,"dst":-11},{"t":2,"dst":13},{"t":3,"dst":50},{"t":4,"dst":43},{"t":5,"dst":39},{"t":6,"dst":-56},{"t":7,"dst":-229},{"t":8,"dst":-246},{"t":9,"dst":-219},{"t":10,"dst":-183},{"t":11,"dst":-174},{"t":12,"dst":-160},{"t":13,"dst":-156},{"t":14,"dst":-144},{"t":15,"dst":-134},{"t":16,"dst":-114},{"t":17,"dst":-98},{"t":18,"dst":-105},{"t":19,"dst":-114},{"t":20,"dst":-118},{"t":21,"dst":-105},{"t":22,"dst":-93},{"t":23,"dst":-99}
]
},
"vconcat": [
{
"spacing": 0,
"hconcat": [
{
"width": 1, "height": 10,
"view": {"stroke": null},
"data": {"values": [{"a": 0}]},
"mark": {"type": "point", "opacity": 0},
"encoding": {}
},
{
"width": 515, "height": 227,
"layer": [
{
"data": {"name": "eej"},
"mark": {"type": "rect", "strokeWidth": 0.6, "stroke": {"expr": "scale('color', datum.v)"}},
"encoding": {
"x": {"field": "t", "type": "quantitative", "bin": {"step": 0.5, "extent": [0, 24]}, "scale": {"domain": [0, 24], "nice": false, "zero": false},
 "axis": {"orient": "bottom", "values": [0,1,2,3,4,5,6,7,8,9,10,11,12,13,14,15,16,17,18,19,20,21,22,23,24], "format": "d", "labelExpr": "datum.value % 2 === 0 ? datum.label : ''", "title": "Storm time ( HH )", "grid": false, "tickSize": -4, "labelPadding": 7, "labelFont": "Liberation Sans", "labelFontSize": 12, "labelColor": "#333", "titleFont": "Liberation Sans", "titleFontSize": 12, "titleFontWeight": "normal", "titleColor": "#333", "titlePadding": 10}},
"y": {"field": "m", "type": "quantitative", "bin": {"step": 1, "extent": [-10, 10]}, "scale": {"domain": [-10, 10], "nice": false, "zero": false},
 "axis": {"orient": "left", "values": [-10,-5,0,5,10], "format": "d", "title": "MLAT ( ° )", "grid": false, "tickSize": -4, "labelPadding": 9, "labelFont": "Liberation Sans", "labelFontSize": 12, "labelColor": "#333", "titleFont": "Liberation Sans", "titleFontSize": 12, "titleFontWeight": "normal", "titleColor": "#333", "titlePadding": 11}},
"color": {"field": "v", "type": "quantitative",
 "scale": {"type": "linear", "domain": [-0.3, -0.225, -0.075, 0.075, 0.225, 0.3], "range": ["#00008f", "#0000ff", "#00ffff", "#ffff00", "#ff0000", "#800000"]},
 "legend": {"type": "gradient", "orient": "none", "legendX": 587, "legendY": 0, "padding": 0, "direction": "vertical", "gradientLength": 228, "gradientThickness": 27, "gradientStrokeColor": "black", "gradientStrokeWidth": 1, "values": [-0.2, -0.1, 0, 0.1, 0.2, 0.3], "format": ".1~f", "labelFont": "Liberation Sans", "labelFontSize": 12, "labelColor": "#333", "labelOffset": 4, "labelBaseline": "middle", "labelOverlap": false, "title": "ΔEEJ( A/m)", "titleOrient": "right", "titleFont": "Liberation Sans", "titleFontSize": 12, "titleFontWeight": "normal", "titleColor": "#333", "titlePadding": 6, "titleAnchor": "middle", "titleAlign": "center", "titleBaseline": "middle",
  "encode": {"title": {"update": {"angle": {"value": 270}}}}}}
}
},
{
"data": {"values": [{"t": 0, "m": -10}, {"t": 24, "m": 10}]},
"mark": {"type": "point", "opacity": 0},
"encoding": {
"x": {"field": "t", "type": "quantitative", "axis": {"orient": "top", "values": [0,2,4,6,8,10,12,14,16,18,20,22,24], "labels": false, "title": null, "grid": false, "tickSize": -4}},
"y": {"field": "m", "type": "quantitative", "axis": {"orient": "right", "values": [-10,-5,0,5,10], "labels": false, "title": null, "grid": false, "tickSize": -4}}
}
}
],
"resolve": {"axis": {"x": "independent", "y": "independent"}}
}
]
},
{
"spacing": 0,
"hconcat": [
{
"width": 33, "height": 10,
"view": {"stroke": null},
"data": {"values": [{"a": 0}]},
"mark": {"type": "point", "opacity": 0},
"encoding": {}
},
{
"width": 507, "height": 189,
"layer": [
{
"data": {"name": "dst"},
"mark": {"type": "line", "color": "#333333", "strokeWidth": 1},
"encoding": {
"x": {"field": "t", "type": "quantitative", "scale": {"domain": [0, 24], "nice": false, "zero": false},
 "axis": {"orient": "bottom", "values": [0,1,2,3,4,5,6,7,8,9,10,11,12,13,14,15,16,17,18,19,20,21,22,23,24], "format": "d", "labelExpr": "datum.value % 2 === 0 ? datum.label : ''", "title": "Storm time ( HH )", "grid": true, "gridColor": "black", "gridDash": [1, 3], "gridWidth": 1, "gridOpacity": {"condition": {"test": "datum.value % 2 === 0 && datum.value > 0 && datum.value < 24", "value": 1}, "value": 0}, "tickSize": -4, "labelPadding": 11, "labelFont": "Liberation Sans", "labelFontSize": 15, "labelColor": "#222", "titleFont": "Liberation Sans", "titleFontSize": 16, "titleFontWeight": "normal", "titleColor": "#222", "titlePadding": 2}},
"y": {"field": "dst", "type": "quantitative", "scale": {"domain": [-250, 50], "nice": false, "zero": false},
 "axis": {"orient": "left", "values": [-250,-225,-200,-175,-150,-125,-100,-75,-50,-25,0,25,50], "format": "d", "labelExpr": "datum.value % 50 === 0 ? datum.label : ''", "title": "Dst(nT)", "grid": true, "gridColor": "black", "gridDash": [1, 3], "gridWidth": 1, "gridOpacity": {"condition": {"test": "datum.value % 50 === 0 && datum.value > -250 && datum.value < 50", "value": 1}, "value": 0}, "tickSize": -4, "labelPadding": 10, "labelFont": "Liberation Sans", "labelFontSize": 14, "labelColor": "#222", "titleFont": "Liberation Sans", "titleFontSize": 16, "titleFontWeight": "normal", "titleColor": "#222", "titlePadding": 19}}
}
},
{
"data": {"values": [{"t": 8, "lo": -250, "hi": 50}]},
"mark": {"type": "rule", "color": "black", "strokeWidth": 1.2, "strokeDash": [8, 3, 2, 3]},
"encoding": {
"x": {"field": "t", "type": "quantitative", "axis": {"orient": "top", "values": [0,1,2,3,4,5,6,7,8,9,10,11,12,13,14,15,16,17,18,19,20,21,22,23,24], "labels": false, "title": null, "grid": false, "tickSize": -4}},
"y": {"field": "lo", "type": "quantitative", "axis": {"orient": "right", "values": [-250,-225,-200,-175,-150,-125,-100,-75,-50,-25,0,25,50], "labels": false, "title": null, "grid": false, "tickSize": -4}},
"y2": {"field": "hi"}
}
}
],
"resolve": {"axis": {"x": "independent", "y": "independent"}}
}
]
}
]
}
